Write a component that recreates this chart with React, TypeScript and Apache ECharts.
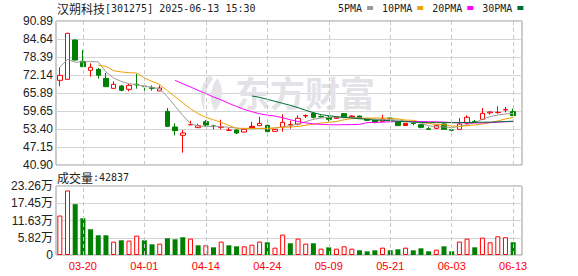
import React, { useEffect, useRef } from 'react';
import * as echarts from 'echarts';

// ---------- data ----------
const dates = ['03-17','03-18','03-19','03-20','03-21','03-24','03-25','03-26','03-27','03-28','03-31','04-01','04-02','04-03','04-07','04-08','04-09','04-10','04-11','04-14','04-15','04-16','04-17','04-18','04-21','04-22','04-23','04-24','04-25','04-28','04-29','04-30','05-06','05-07','05-08','05-09','05-12','05-13','05-14','05-15','05-16','05-19','05-20','05-21','05-22','05-23','05-26','05-27','05-28','05-29','05-30','06-03','06-04','06-05','06-06','06-09','06-10','06-11','06-12','06-13'];
const labelDates = ['03-20','04-01','04-14','04-24','05-09','05-21','06-03','06-13'];

const opens = [70.29,70.64,84.29,76.89,73.76,74.11,70.99,67.51,68.32,67.17,68.95,68.30,67.75,66.59,59.53,54.09,51.20,54.85,53.86,55.94,54.45,54.00,52.95,53.05,52.36,54.32,54.55,54.67,52.59,54.09,54.85,55.13,57.90,58.84,57.70,57.45,57.45,58.72,57.90,57.91,56.98,56.40,56.06,57.22,55.93,55.37,55.45,54.90,53.45,53.63,55.13,53.10,53.28,55.48,55.95,56.75,59.00,59.10,60.00,59.42];
const closes = [72.03,86.61,77.35,75.04,74.80,72.03,68.09,68.90,66.82,68.56,68.70,68.10,67.52,67.63,54.32,52.82,52.01,54.90,54.55,54.78,54.30,54.10,53.00,52.01,53.28,53.75,55.36,52.47,53.28,55.71,54.95,57.10,58.10,57.45,57.60,56.75,57.10,57.33,57.60,56.98,56.40,55.71,56.87,56.87,54.57,54.60,55.30,53.98,53.30,54.67,53.28,53.00,55.13,57.45,55.85,58.84,59.30,59.20,60.20,58.03];
const lows = [68.21,70.50,77.20,75.00,71.56,70.87,68.00,67.40,66.47,66.47,67.40,66.70,66.70,66.50,54.20,51.20,45.18,54.80,53.80,54.20,53.28,53.28,52.90,51.66,52.20,53.70,54.50,52.40,52.50,52.47,53.51,54.67,57.22,56.98,57.45,56.06,57.00,57.20,57.50,56.90,56.30,55.36,55.90,56.06,54.50,54.50,54.67,53.63,53.17,53.40,53.20,52.59,53.20,54.90,55.48,56.50,58.37,58.72,59.18,58.00];
const highs = [74.81,86.80,84.50,80.82,76.19,74.57,72.84,69.94,68.70,69.02,72.49,69.10,68.56,68.56,60.69,55.36,53.05,56.29,55.25,56.52,54.90,56.64,53.86,53.28,53.40,55.94,57.68,54.90,53.40,58.49,56.29,58.14,58.49,59.20,58.14,58.00,57.60,58.95,58.26,58.00,57.10,56.50,58.26,57.30,55.95,55.50,55.60,55.00,54.20,54.80,55.60,53.51,57.22,58.14,56.52,60.69,59.53,61.27,61.04,60.45];
// candles drawn as solid red bodies
const redSolid = [25, 36, 38, 45];

const ma5 = [74.8,77.6,76.6,76.7,76.8,76.7,73.2,71.1,69.9,69.1,68.8,68.2,67.9,67.3,64.6,61.3,58.1,55.3,54.4,54.3,54.3,54.2,54.0,53.75,53.5,53.5,53.6,53.6,53.75,54.1,54.55,55.13,55.94,56.75,57.2,57.45,57.5,57.45,57.45,57.2,57.0,56.9,56.6,56.6,56.5,56.2,55.9,55.5,54.5,54.2,54.1,53.9,54.3,54.9,55.6,56.75,57.7,58.26,58.6,58.84];
const ma10 = [null,null,null,null,null,75.5,75.15,73.65,73.2,72.95,72.84,71.1,69.94,68.8,66.7,64.6,62.5,60.45,58.7,57.45,56.6,55.7,54.67,53.63,53.63,53.6,53.6,53.6,53.75,54.0,54.1,54.3,54.67,55.1,55.5,55.7,56.0,56.6,57.0,57.1,57.2,57.2,57.2,57.1,56.9,56.5,56.4,55.8,55.3,55.0,54.9,54.44,54.3,54.55,54.8,55.13,55.6,56.2,56.9,57.4];
const ma20 = [null,null,null,null,null,null,null,null,null,null,null,null,null,null,null,70.3,69.1,68.0,66.8,65.7,64.5,63.5,62.3,61.2,60.2,59.4,58.7,58.2,57.9,57.3,56.6,56.0,55.5,55.2,55.0,54.9,54.85,54.9,54.95,55.0,55.6,55.7,55.75,55.9,56.0,56.0,56.0,56.0,55.95,55.9,55.8,55.6,55.55,55.5,55.5,55.5,55.6,55.8,55.9,56.0];
const ma30 = [null,null,null,null,null,null,null,null,null,null,null,null,null,null,null,null,null,null,null,null,null,null,null,null,null,64.85,64.4,63.7,63.0,62.3,61.6,60.8,59.9,59.07,58.37,58.03,57.68,57.45,57.2,57.0,56.75,56.5,56.4,56.3,56.06,55.95,55.8,55.7,55.6,55.6,55.6,55.6,55.6,55.65,55.7,55.75,55.8,55.85,56.0,56.1];

const volumes = [133000,217600,171400,124000,86800,66500,66500,45100,49600,48500,65400,49600,36100,38300,56400,53000,59800,55200,32700,32700,25900,45100,32700,29300,29300,34900,45100,42800,24800,68800,39500,55200,38300,39500,21400,25900,21400,29300,21400,15800,12400,15800,24800,15800,19200,24800,15800,22500,12400,18000,29300,12400,45100,55200,25900,58600,42800,63100,59800,42837];
// 1 = red (up vs previous close), 0 = green
const volUp = [1,1,0,0,0,0,0,1,0,1,1,0,0,1,0,0,0,1,0,1,0,1,0,0,1,1,1,0,1,1,0,1,1,0,1,0,1,1,1,0,0,0,1,0,0,1,0,0,0,1,0,0,1,1,0,1,1,1,1,0];

const priceTicks = [40.90, 47.15, 53.40, 59.65, 65.89, 72.14, 78.39, 84.64, 90.89];
const volTicks = [0, 58150, 116300, 174450, 232600];
const volTickLabels = ['0', '5.82万', '11.63万', '17.45万', '23.26万'];

const maNames = ['5PMA', '10PMA', '20PMA', '30PMA'];

// ---------- styles ----------
const RED = '#ff0000';
const GREEN = '#008000';
const MA_COLORS = ['#9a9a9a', '#f0a000', '#ff00ff', '#006f33'];
const GRID_LINE = '#d4d4d4';
const FRAME = '#999999';
const DASH = '#c8c8c8';

try {
  echarts.graphic.registerShape(
    'emlogo',
    echarts.graphic.extendPath(
      'M15 0 C5 8 1 22 9 36 C8 24 10 12 19 4 Z M24 3 C15 13 14 26 21 36 C31 28 32 12 24 3 Z',
      {}
    )
  );
} catch (e) {}

const P_LEFT = 56, P_TOP = 21, P_H = 144;
const V_TOP = 186, V_H = 69;
const DATA_W = 461, FRAME_W = 466;

function buildOption() {
  const candleData = dates.map((_, i) => {
    const item: any = { value: [opens[i], closes[i], lows[i], highs[i]] };
    if (redSolid.includes(i)) {
      item.itemStyle = { color: RED, color0: RED, borderColor: RED, borderColor0: RED };
    }
    return item;
  });
  const volData = volumes.map((v, i) => ({
    value: v,
    itemStyle: volUp[i]
      ? { color: '#ffffff', borderColor: RED, borderWidth: 1 }
      : { color: GREEN, borderColor: GREEN, borderWidth: 0 },
  }));
  const vLines = {
    silent: true,
    symbol: ['none', 'none'],
    label: { show: false },
    lineStyle: { color: DASH, type: [4, 3], width: 1 },
    emphasis: { disabled: true },
    data: labelDates.map((d) => ({ xAxis: d })),
    animation: false,
  };
  const maArrays = [ma5, ma10, ma20, ma30];
  const lastVol = volumes[volumes.length - 1];
  const richText = {
    a: { fontFamily: 'Noto Sans CJK SC', fontSize: 12, color: '#222', fontWeight: 'normal' },
    b: { fontFamily: 'DejaVu Sans Mono', fontSize: 10, color: '#222', fontWeight: 'normal' },
  };

  return {
    animation: false,
    backgroundColor: '#ffffff',
    title: [
      {
        left: 57, top: 2, padding: 0,
        text: '{a|汉朔科技}{b|[301275] 2025-06-13 15:30}',
        textStyle: { fontWeight: 'normal', rich: richText },
      },
      {
        left: 57, top: 171, padding: 0,
        text: '{a|成交量}{b|:' + lastVol + '}',
        textStyle: { fontWeight: 'normal', rich: richText },
      },
    ],
    legend: {
      data: maNames,
      left: 338, top: 3, padding: 0,
      icon: 'rect', itemWidth: 6, itemHeight: 4, itemGap: 9,
      align: 'right',
      selectedMode: false,
      textStyle: { fontFamily: 'DejaVu Sans Mono', fontSize: 10, color: '#222', padding: [0, 0, 0, 0] },
    },
    graphic: [
      {
        type: 'emlogo', x: 197, y: 75, scaleX: 0.85, scaleY: 1, z: 1,
        style: { fill: '#e4e4e8' }, silent: true,
      },
      {
        type: 'text', x: 235, y: 74, z: 1, silent: true,
        style: {
          text: '东方财富', fontSize: 35, fontWeight: 'bold',
          fontFamily: 'Noto Sans CJK SC', fill: '#e3e3e7',
        },
      },
    ],
    grid: [
      { left: P_LEFT, top: P_TOP, width: DATA_W, height: P_H, outerBoundsMode: 'none' },
      { left: P_LEFT, top: V_TOP, width: DATA_W, height: V_H, outerBoundsMode: 'none' },
      { left: P_LEFT, top: P_TOP, width: FRAME_W, height: P_H, show: true, borderColor: FRAME, borderWidth: 1, backgroundColor: 'transparent', outerBoundsMode: 'none' },
      { left: P_LEFT, top: V_TOP, width: FRAME_W, height: V_H, show: true, borderColor: FRAME, borderWidth: 1, backgroundColor: 'transparent', outerBoundsMode: 'none' },
    ],
    xAxis: [
      {
        type: 'category', gridIndex: 0, data: dates, boundaryGap: true,
        axisLine: { show: false }, axisTick: { show: false }, axisLabel: { show: false }, splitLine: { show: false },
      },
      {
        type: 'category', gridIndex: 1, data: dates, boundaryGap: true,
        axisLine: { show: false }, axisTick: { show: false }, splitLine: { show: false },
        axisLabel: {
          interval: (_: number, v: string) => labelDates.includes(v),
          color: RED, fontSize: 11, fontFamily: 'Liberation Sans', margin: 5,
        },
      },
      { type: 'value', gridIndex: 2, min: 0, max: 1, show: false },
      { type: 'value', gridIndex: 3, min: 0, max: 1, show: false },
    ],
    yAxis: [
      { type: 'value', gridIndex: 0, min: 40.9, max: 90.89, show: false, splitLine: { show: false } },
      { type: 'value', gridIndex: 1, min: 0, max: 232600, show: false, splitLine: { show: false } },
      {
        type: 'value', gridIndex: 2, min: 40.9, max: 90.89,
        axisLine: { show: false },
        axisTick: { show: false, customValues: priceTicks },
        axisLabel: {
          customValues: priceTicks,
          formatter: (v: number) => v.toFixed(2),
          color: '#222', fontSize: 12, fontFamily: 'Liberation Sans', margin: 3,
          showMinLabel: true, showMaxLabel: true,
        },
        splitLine: { show: true, lineStyle: { color: GRID_LINE, width: 1 } },
      },
      {
        type: 'value', gridIndex: 3, min: 0, max: 232600, interval: 58150,
        axisLine: { show: false }, axisTick: { show: false },
        axisLabel: {
          formatter: (v: number) => volTickLabels[volTicks.indexOf(v)] ?? '',
          color: '#222', fontSize: 12, fontFamily: 'Liberation Sans, Noto Sans CJK SC', margin: 3,
          showMinLabel: true, showMaxLabel: true,
        },
        splitLine: { show: true, lineStyle: { color: GRID_LINE, width: 1 } },
      },
    ],
    series: [
      {
        type: 'candlestick', name: 'K', xAxisIndex: 0, yAxisIndex: 0,
        data: candleData, barWidth: 5, z: 3,
        itemStyle: { color: '#ffffff', color0: GREEN, borderColor: RED, borderColor0: GREEN, borderWidth: 1 },
        markLine: vLines,
      },
      ...maNames.map((n, k) => ({
        type: 'line', name: n, xAxisIndex: 0, yAxisIndex: 0,
        data: maArrays[k], symbol: 'none', showSymbol: false, z: 4,
        lineStyle: { color: MA_COLORS[k], width: 1 },
        itemStyle: { color: MA_COLORS[k] },
        connectNulls: false, silent: true,
      })),
      {
        type: 'bar', name: 'VOL', xAxisIndex: 1, yAxisIndex: 1,
        data: volData, barWidth: 5, z: 3,
        markLine: vLines,
      },
    ],
  };
}

export default function App() {
  const ref = useRef<HTMLDivElement>(null);
  useEffect(() => {
    if (!ref.current) return;
    const chart = echarts.init(ref.current, null, { renderer: 'svg' });
    chart.setOption(buildOption() as any);
    return () => chart.dispose();
  }, []);
  return (
    <div
      ref={ref}
      style={{ position: 'fixed', left: 0, top: 0, width: 578, height: 276, background: '#fff' }}
    />
  );
}
